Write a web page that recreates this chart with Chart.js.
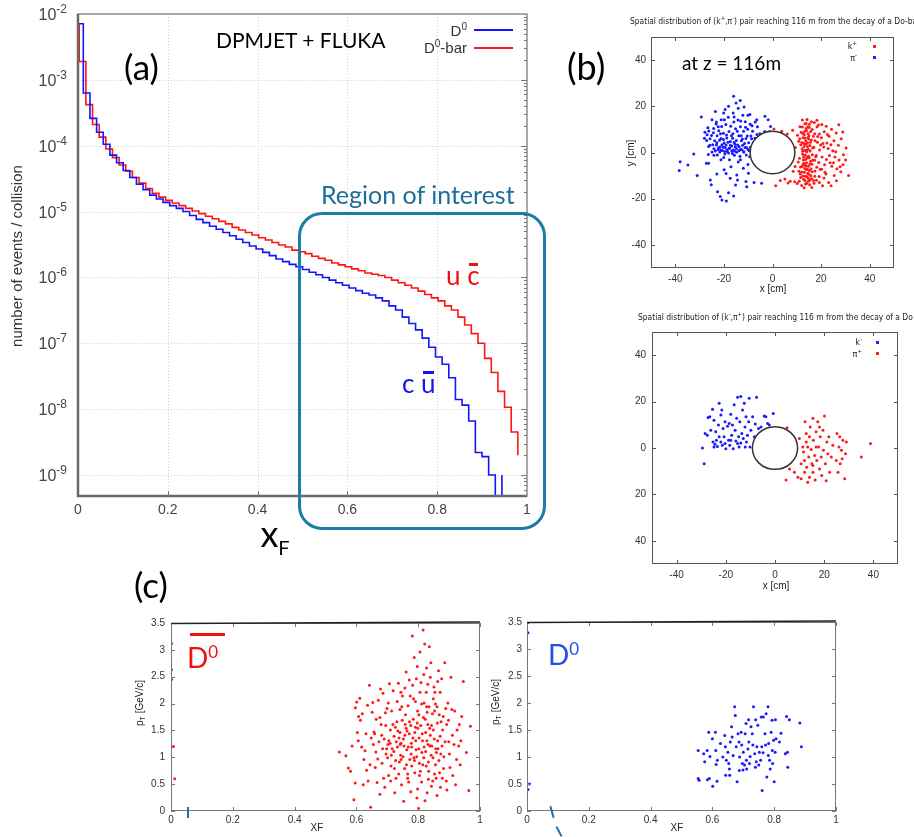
<!DOCTYPE html>
<html>
<head>
<meta charset="utf-8">
<title>D0 / D0-bar at large xF</title>
<script src="https://cdn.jsdelivr.net/npm/chart.js@4.4.1/dist/chart.umd.min.js"></script>
<style>
  body { margin: 0; background: #fff; }
  #page { position: relative; width: 914px; height: 837px; overflow: hidden; font-family: "Liberation Sans", Arial, sans-serif; }
  .box { position: absolute; }
  .txt { position: absolute; white-space: nowrap; line-height: 1; }
  .cal { font-family: Lato, "Open Sans", sans-serif; }
  .tiny { font-family: "Liberation Sans Narrow", "DejaVu Sans Condensed", "Liberation Sans", sans-serif; font-size: 9px; color: #222; }
  .title { font-size: 8.4px; }
  .up { position: relative; }
  .bar { position: relative; display: inline-block; }
  .bar::before { content: ""; position: absolute; left: 2px; right: 2px; top: 1px; border-top: 3px solid currentColor; }
  .dot { position: absolute; width: 3px; height: 3px; }
  .line { position: absolute; height: 2px; }
  #roi { position: absolute; left: 298px; top: 212px; width: 242px; height: 312px; border: 3px solid #1c7da6; border-radius: 24px; }
</style>
</head>
<body>
<div id="page">
  <div class="box" style="left:0;top:0;width:560px;height:560px"><canvas id="histo" width="560" height="560"></canvas></div>
  <div class="box" style="left:600px;top:0;width:314px;height:300px"><canvas id="dbar" width="314" height="300"></canvas></div>
  <div class="box" style="left:600px;top:290px;width:314px;height:310px"><canvas id="dzero" width="314" height="310"></canvas></div>
  <div class="box" style="left:120px;top:600px;width:370px;height:237px"><canvas id="ptbar" width="370" height="237"></canvas></div>
  <div class="box" style="left:483px;top:600px;width:370px;height:237px"><canvas id="pt" width="370" height="237"></canvas></div>

  <!-- (a) annotations -->
  <div class="txt cal" style="left:124px;top:49px;font-size:35px">(a)</div>
  <div class="txt cal" style="left:216px;top:29px;font-size:21px">DPMJET + FLUKA</div>
  <div class="txt" style="left:380px;top:23px;width:87px;text-align:right;font-size:15px;color:#333">D<span class="up" style="font-size:10px;top:-6px">0</span></div>
  <div class="line" style="left:474px;top:29px;width:39px;background:#1414ff"></div>
  <div class="txt" style="left:380px;top:40px;width:87px;text-align:right;font-size:15px;color:#333">D<span class="up" style="font-size:10px;top:-6px">0</span>-bar</div>
  <div class="line" style="left:474px;top:47px;width:39px;background:#ff1414"></div>
  <div id="roi"></div>
  <div class="txt cal" style="left:321px;top:182px;font-size:25px;color:#1c6f9a">Region of interest</div>
  <div class="txt cal" style="left:446px;top:262px;font-size:26px;color:#f01010">u <span class="bar">c</span></div>
  <div class="txt cal" style="left:402px;top:370px;font-size:26px;color:#1414f0">c <span class="bar">u</span></div>

  <!-- (b) annotations -->
  <div class="txt cal" style="left:567px;top:48px;font-size:36px">(b)</div>
  <div class="txt cal" style="left:682px;top:53px;font-size:19px">at z = 116m</div>
  <div class="txt tiny title" style="left:630px;top:15px">Spatial distribution of (k<sup style="font-size:6px">+</sup>,&pi;<sup style="font-size:6px">-</sup>) pair reaching 116 m from the decay of a Do-bar</div>
  <div class="txt tiny" style="left:830px;top:40px;width:27px;text-align:right">k<sup style="font-size:6px">+</sup></div>
  <div class="dot" style="left:873px;top:45px;background:#ff2020"></div>
  <div class="txt tiny" style="left:830px;top:52px;width:27px;text-align:right">&pi;<sup style="font-size:6px">-</sup></div>
  <div class="dot" style="left:873px;top:56px;background:#2020ff"></div>
  <div class="txt tiny title" style="left:638px;top:311px">Spatial distribution of (k<sup style="font-size:6px">-</sup>,&pi;<sup style="font-size:6px">+</sup>) pair reaching 116 m from the decay of a Do</div>
  <div class="txt tiny" style="left:835px;top:336px;width:27px;text-align:right">k<sup style="font-size:6px">-</sup></div>
  <div class="dot" style="left:876px;top:341px;background:#2020ff"></div>
  <div class="txt tiny" style="left:835px;top:348px;width:27px;text-align:right">&pi;<sup style="font-size:6px">+</sup></div>
  <div class="dot" style="left:876px;top:352px;background:#ff2020"></div>

  <!-- (c) annotations -->
  <div class="txt cal" style="left:134px;top:567px;font-size:35px">(c)</div>
  <div class="line" style="left:190px;top:633px;width:35px;height:3px;background:#f01010"></div>
  <div class="txt cal" style="left:187px;top:643px;font-size:28px;color:#f01010">D<span class="up" style="font-size:17px;top:-10px">0</span></div>
  <div class="txt cal" style="left:548px;top:640px;font-size:28px;color:#1f4fe8">D<span class="up" style="font-size:17px;top:-10px">0</span></div>
  <div class="line" style="left:187px;top:807px;width:2px;height:11px;background:#1c6fb0"></div>
  <div class="line" style="left:551px;top:806px;width:2px;height:12px;background:#1c6fb0;transform:rotate(-15deg)"></div>
  <div class="line" style="left:558px;top:826px;width:2px;height:11px;background:#1c6fb0;transform:rotate(-28deg)"></div>
</div>

<script>
/* global Chart */
// ---------- (a) xF spectra, events / collision per bin ----------
const binWidth = 0.0148;
const d0Start = -0.003;     // first bin edge, D0
const d0barStart = -0.012;  // first bin edge, D0-bar
const logFloor = 4.8e-10;   // bottom of the log axis, empty bins sit here
// last D0 entries: an empty bin, then the closing edge of the last bin
const d0 = [7.1e-3, 6.3e-4, 2.6e-4, 1.6e-4, 1.05e-4, 7.2e-5, 5.5e-5, 4.2e-5, 3.3e-5, 2.6e-5,
  2.15e-5, 1.78e-5, 1.55e-5, 1.38e-5, 1.23e-5, 1.12e-5, 1.0e-5, 8.7e-6, 7.6e-6, 6.8e-6,
  6.0e-6, 5.4e-6, 4.8e-6, 4.3e-6, 3.8e-6, 3.4e-6, 3.0e-6, 2.7e-6, 2.4e-6, 2.14e-6,
  1.9e-6, 1.74e-6, 1.58e-6, 1.45e-6, 1.32e-6, 1.2e-6, 1.1e-6, 1.0e-6, 9.1e-7, 8.3e-7,
  7.6e-7, 6.9e-7, 6.3e-7, 5.75e-7, 5.4e-7, 4.9e-7, 4.4e-7, 3.7e-7, 3.2e-7, 2.5e-7,
  2.0e-7, 1.6e-7, 1.2e-7, 8.7e-8, 6.2e-8, 4.8e-8, 3.0e-8, 1.4e-8, 1.15e-8, 6.6e-9,
  2.2e-9, 1.9e-9, 1.0e-9, 0, 1.0e-9];
const d0bar = [6.8e-3, 1.9e-3, 4.2e-4, 2.1e-4, 1.35e-4, 8.9e-5, 6.6e-5, 5.1e-5, 4.1e-5, 3.3e-5,
  2.7e-5, 2.24e-5, 1.9e-5, 1.66e-5, 1.48e-5, 1.35e-5, 1.23e-5, 1.12e-5, 1.02e-5, 9.3e-6,
  8.5e-6, 7.8e-6, 7.1e-6, 6.5e-6, 5.75e-6, 5.25e-6, 4.8e-6, 4.4e-6, 4.0e-6, 3.7e-6,
  3.4e-6, 3.1e-6, 2.9e-6, 2.6e-6, 2.45e-6, 2.3e-6, 2.1e-6, 1.95e-6, 1.82e-6, 1.66e-6,
  1.55e-6, 1.45e-6, 1.35e-6, 1.26e-6, 1.17e-6, 1.12e-6, 1.07e-6, 1.0e-6, 9.1e-7, 8.3e-7,
  7.6e-7, 6.9e-7, 6.2e-7, 5.5e-7, 4.9e-7, 4.4e-7, 3.7e-7, 3.2e-7, 2.5e-7, 1.9e-7,
  1.4e-7, 1.0e-7, 5.9e-8, 3.6e-8, 1.86e-8, 1.07e-8, 4.5e-9, 2.0e-9];
const xfTicks = [0, 0.2, 0.4, 0.6, 0.8, 1];
const decades = [-2, -3, -4, -5, -6, -7, -8, -9];

// ---------- (b) hit positions at z = 116 m, [x cm, y cm] ----------
const posTicks = [-40, -20, 0, 20, 40];
const beamRadius = 9.2;
const kPlusDbar = [[0.6,10.2],[1.3,-14.4],[3.2,-12.1],[3.8,9.2],[5.1,-11.5],[6.4,-13.2],[7.3,-12.4],[7.1,5.3],[8.3,9.6],[8.5,-8.1],
  [9.1,-12.7],[9.4,2.2],[10.3,7.5],[10.6,-4.1],[10.2,-13.4],[11.3,11.2],[11.6,3.4],[11.1,-2.5],[11.4,-9.3],[12.3,14.1],
  [12.5,8.2],[12.1,4.3],[12.4,0.5],[12.7,-3.3],[12.2,-6.1],[12.5,-10.2],[12.0,-14.3],[13.3,12.4],[13.4,6.2],[13.0,2.6],
  [13.5,-1.1],[13.2,-5.4],[13.1,-8.6],[13.4,-12.1],[13.8,10.4],[13.6,-3.0],[14.2,14.3],[14.0,9.5],[14.4,4.1],[14.1,0.3],
  [14.0,-4.4],[14.3,-7.2],[14.2,-10.5],[14.1,-13.3],[14.7,1.4],[14.8,-6.0],[15.2,12.2],[15.0,7.3],[15.4,3.0],[15.1,-2.3],
  [15.0,-9.4],[15.3,-14.0],[16.3,10.0],[16.0,5.4],[16.4,-1.0],[16.2,-5.1],[16.1,-11.4],[17.2,13.0],[17.4,8.1],[17.0,2.3],
  [17.3,-3.4],[17.5,-8.0],[17.1,-13.3],[18.3,11.1],[18.5,4.4],[18.0,-1.3],[18.2,-6.4],[18.1,-12.0],[19.3,8.0],[19.4,1.1],
  [19.0,-4.3],[19.2,-10.4],[20.3,12.1],[20.1,6.4],[20.4,-2.0],[20.2,-7.3],[20.6,-14.4],[21.3,9.0],[21.1,2.4],[21.4,-5.3],
  [21.2,-11.0],[22.1,11.4],[22.4,4.1],[22.2,-3.0],[22.0,-9.3],[23.3,7.0],[23.4,-1.3],[23.1,-13.0],[24.3,10.1],[24.0,3.4],
  [24.4,-6.0],[25.3,5.1],[25.1,-4.4],[25.4,-10.0],[26.2,8.4],[26.0,0.3],[26.5,-7.0],[27.3,12.0],[27.1,3.1],[27.4,-3.3],
  [28.3,6.0],[28.1,-8.3],[29.2,-1.0],[29.0,-5.3],[30.3,2.0],[30.1,-3.3],[31.3,-10.0],[26.3,-12.2],[24.1,-14.4],[18.3,14.0],
  [16.0,13.3],[6.1,8.0],[5.4,-3.2],[9.3,-6.1],[11.0,-12.4],[15.3,-12.0],[13.0,-15.3],[19.3,-13.0],[16.2,-15.2],[12.6,6.4],
  [12.8,-2.0],[13.2,9.1],[13.5,-10.3],[13.7,5.0],[13.9,-7.4],[14.5,11.1],[14.3,-2.4],[14.6,6.5],[14.7,-11.2],[15.5,0.6],
  [15.4,-5.0],[15.7,9.1],[16.5,2.0],[16.3,-8.3],[12.3,11.0],[12.0,-8.4],[11.2,6.0],[11.5,-6.3],[17.5,5.1],[17.4,-10.3],
  [16.6,-3.2],[15.6,4.4],[14.5,-9.0],[13.3,1.0],[14.9,-1.6],[12.9,-4.6],[15.8,-7.0],[13.6,3.6],
  [12.2,1.6],[12.8,-11.6],[13.1,7.6],[13.9,-5.8],[14.4,2.6],[14.8,-12.4],[15.1,10.8],[15.7,-3.8],[12.4,-0.8],[13.3,-6.9],
  [13.8,12.6],[14.2,-1.9],[14.9,5.8],[15.8,-10.1],[12.9,3.9],[13.6,-13.6],[14.6,8.2],[15.2,-7.9],[12.6,-5.2],[13.9,0.9],
  [16.8,7.0],[17.8,-1.8],[18.6,6.9],[19.6,-7.3],[20.7,3.9],[21.6,-8.6],[22.6,7.8],[23.7,-4.4],[24.8,0.8],[25.7,-1.9],
  [11.8,8.8],[11.6,-10.8],[10.8,4.9],[10.9,-8.1],[16.9,-12.1],[18.9,11.9],[22.9,1.7],[27.8,-6.2],[28.9,8.9],[19.8,3.2]];
const piMinusDbar = [[-38.0,-4.0],[-38.4,-7.8],[-34.8,-5.4],[-32.4,-0.6],[-31.0,-10.0],[-29.3,15.4],[-27.2,-4.6],[-26.3,-4.6],[-25.6,-11.9],[-25.2,-14.0],
  [-22.6,-17.0],[-21.5,-19.0],[-20.8,-20.6],[-19.0,-21.0],[-18.1,-17.4],[-16.0,-18.8],[-22.9,-9.3],[-19.9,-7.5],[-17.4,-11.2],[-14.7,-9.7],
  [-14.4,-11.9],[-10.9,-12.6],[-10.6,-14.8],[-7.6,-13.0],[-4.5,-13.3],[-12.0,-6.8],[-9.9,-9.0],[-16.0,24.3],[-13.3,22.5],[-15.0,21.4],
  [-18.1,20.0],[-11.7,19.7],[-19.5,18.6],[-9.3,16.4],[-6.5,14.2],[-3.1,15.7],[-1.8,14.2],[-0.8,11.3],[-1.1,9.1],[-23.5,17.8],
  [-24.9,14.2],[-26.9,7.7],[-28.0,6.2],[-26.3,2.6],[-27.1,5.2],[-26.2,9.3],[-25.8,3.1],[-25.1,7.4],[-24.9,0.2],[-24.2,10.4],
  [-23.8,5.1],[-24.1,1.6],[-23.2,12.3],[-22.8,7.2],[-23.1,3.3],[-22.7,-1.1],[-22.1,9.4],[-21.8,5.3],[-22.2,2.1],[-21.7,0.2],
  [-21.1,14.2],[-20.9,11.3],[-21.2,6.1],[-20.8,3.4],[-21.3,1.1],[-20.2,8.3],[-19.9,4.1],[-20.3,2.3],[-19.7,0.4],[-20.1,-2.2],
  [-19.2,12.1],[-18.8,6.3],[-19.1,3.2],[-18.7,1.2],[-18.2,15.3],[-17.9,9.1],[-18.3,4.4],[-17.8,1.7],[-18.1,-0.2],[-17.7,-3.1],
  [-17.2,11.4],[-16.9,7.2],[-17.3,3.1],[-16.8,0.6],[-16.2,17.1],[-15.9,13.2],[-16.3,8.1],[-15.8,4.3],[-16.1,1.1],[-15.7,-1.2],
  [-15.2,10.3],[-14.9,5.2],[-15.3,2.4],[-14.8,0.1],[-14.2,14.1],[-13.9,7.3],[-14.3,3.3],[-13.8,0.8],[-14.1,-4.1],[-13.2,11.2],
  [-12.8,5.1],[-13.1,1.3],[-12.2,16.1],[-11.9,9.2],[-12.3,3.1],[-11.8,0.2],[-11.2,13.3],[-10.9,6.1],[-11.3,2.2],[-10.8,-1.1],
  [-10.2,10.1],[-9.8,4.2],[-10.1,1.3],[-9.2,12.2],[-8.9,7.1],[-9.1,2.3],[-8.2,9.2],[-7.9,4.1],[-8.1,0.1],[-7.2,6.2],
  [-6.9,-3.1],[-6.2,11.1],[-5.9,3.2],[-5.2,8.1],[-4.8,-5.1],[-4.1,6.2],[-3.2,9.1],[-2.9,-8.1],[-2.1,5.2],[-24.1,-1.2],
  [-21.2,-3.1],[-17.1,-6.2],[-13.2,-3.1],[-10.1,-5.2],[-19.1,-9.1],[-15.2,-14.1],[-23.1,13.2],[-20.1,17.1],[-14.1,19.2],[-10.1,16.1],
  [-7.1,13.2],[-23.5,0.6],[-22.4,1.3],[-21.6,2.4],[-20.7,0.9],[-19.5,2.2],[-18.6,0.4],[-17.7,1.9],[-16.8,2.8],[-15.6,0.7],
  [-14.8,1.6],[-13.7,2.5],[-12.6,1.2],[-11.8,0.3],[-10.7,2.2],[-9.6,0.8],[-24.6,3.4],[-20.2,5.6],[-16.4,6.2],[-12.9,7.3],
  [-26.6,10.7],[-27.8,8.8],[-22.9,4.2],[-21.4,8.1],[-19.6,-0.6],[-18.9,7.6],[-17.3,4.8],[-16.5,-0.4],[-15.4,3.6],[-14.5,9.2],
  [-13.4,-1.6],[-12.4,5.8],[-11.5,3.9],[-10.4,7.1],[-9.4,-1.8],[-8.6,5.9],[-7.6,2.1],[-25.7,5.9],[-24.3,8.6],[-26.4,-0.9],
  [-22.3,11.1],[-19.8,14.2],[-15.8,15.4],[-13.1,13.6],[-11.1,10.9],[-8.4,11.6],[-6.4,7.8]];
const kMinusD0 = [[-29.5,0.0],[-28.8,-6.8],[-28.4,6.2],[-27.5,5.5],[-27.2,13.2],[-26.5,13.5],[-25.4,16.7],[-24.8,12.0],[-23.8,3.3],[-25.2,2.6],
  [-24.4,1.6],[-23.4,0.7],[-23.0,9.9],[-22.7,19.3],[-22.0,14.2],[-21.6,16.4],[-21.1,8.4],[-20.7,4.8],[-20.3,1.9],[-20.0,-0.3],
  [-19.3,9.4],[-18.9,3.3],[-18.6,10.6],[-18.4,1.2],[-18.0,14.6],[-17.6,5.5],[-17.3,9.9],[-17.0,-0.3],[-16.6,18.6],[-16.2,7.7],
  [-15.9,3.0],[-15.6,12.8],[-15.2,21.9],[-14.8,4.8],[-14.6,0.4],[-14.3,11.3],[-13.9,22.2],[-13.5,6.2],[-13.2,16.4],[-12.9,4.1],
  [-12.5,19.3],[-12.2,9.1],[-12.1,0.4],[-11.8,13.5],[-11.6,2.6],[-11.2,5.5],[-10.7,11.3],[-10.5,21.4],[-10.2,0.4],[-9.8,7.7],
  [-9.1,13.5],[-8.4,4.8],[-8.0,10.3],[-7.5,21.9],[-6.7,8.4],[-5.7,9.1],[-4.4,13.8],[-3.7,13.5],[-3.0,10.6],[-2.3,9.9],
  [-0.7,14.9],[-22.7,4.8],[-22.0,2.6],[-21.4,1.2],[-26.1,7.7],[-24.1,7.0],[-20.3,11.3],[-18.0,3.3],[-15.2,1.9],[-13.9,2.2],
  [-24.8,0.4]];
const piPlusD0 = [[4.9,8.7],[4.5,-13.8],[5.9,-9.0],[7.9,-10.4],[9.3,-12.6],[10.6,-13.3],[11.3,0.4],[11.6,-1.7],[12.0,-5.4],[12.2,11.3],
  [12.7,6.2],[12.7,2.6],[12.9,-8.3],[13.3,-14.8],[13.7,-3.9],[14.0,4.8],[14.0,-12.6],[14.3,9.1],[14.7,-0.7],[15.0,-6.8],
  [15.4,12.8],[15.4,-10.4],[15.6,3.3],[16.1,-3.2],[16.3,-13.8],[16.7,7.0],[17.0,-5.4],[17.4,11.3],[17.7,0.4],[18.1,-9.0],
  [18.4,4.8],[18.8,-3.9],[19.0,-11.9],[19.5,7.7],[19.7,-1.0],[20.1,13.8],[20.5,-6.8],[20.8,-14.1],[21.1,2.6],[21.5,-2.5],
  [21.9,4.8],[22.2,-10.4],[22.9,-3.9],[23.5,1.2],[24.9,-5.4],[25.2,6.2],[25.6,-10.4],[26.0,0.4],[26.3,4.8],[26.5,-6.8],
  [27.0,-1.0],[27.3,-4.6],[27.6,3.3],[28.3,-13.3],[28.7,-2.5],[29.0,2.6],[35.1,-3.9],[38.8,1.9],[9.9,4.1],[10.6,-6.8],
  [12.0,-10.4],[15.4,-7.5],[13.3,0.4],[16.7,0.4],[18.1,9.1]];

// ---------- (c) pT vs xF, [xF, pT GeV/c] ----------
const xfTicksC = [0, 0.2, 0.4, 0.6, 0.8, 1];
const ptTicks = [0, 0.5, 1, 1.5, 2, 2.5, 3, 3.5];
const d0barXfPt = [[0.545,1.1],[0.566,1.03],[0.574,0.8],[0.581,0.74],[0.586,1.21],[0.592,0.21],[0.596,0.52],[0.597,1.92],[0.601,2.03],[0.603,1.46],
  [0.607,1.76],[0.611,2.1],[0.613,1.69],[0.617,1.19],[0.622,0.49],[0.624,0.96],[0.631,1.44],[0.633,0.76],[0.638,0.56],[0.642,2.34],
  [0.646,0.07],[0.648,1.36],[0.651,1.84],[0.653,2.02],[0.657,1.47],[0.661,0.81],[0.663,1.1],[0.667,0.53],[0.671,2.06],[0.673,1.29],
  [0.676,0.31],[0.68,1.61],[0.683,0.89],[0.686,2.19],[0.69,1.34],[0.692,0.44],[0.696,1.06],[0.699,1.91],[0.702,1.24],[0.704,0.66],
  [0.707,2.37],[0.71,1.51],[0.712,0.84],[0.716,1.16],[0.719,2.24],[0.722,1.39],[0.724,0.34],[0.727,0.94],[0.731,1.66],[0.733,1.19],
  [0.736,2.38],[0.737,0.69],[0.741,1.89],[0.743,1.04],[0.746,0.49],[0.749,2.14],[0.752,1.34],[0.753,0.18],[0.756,0.79],[0.758,1.61],
  [0.761,2.59],[0.763,1.14],[0.766,0.61],[0.767,1.96],[0.771,1.44],[0.773,0.96],[0.776,0.36],[0.778,1.26],[0.781,3.26],[0.782,2.34],
  [0.784,1.71],[0.786,0.99],[0.787,2.86],[0.789,0.71],[0.791,1.56],[0.793,1.14],[0.794,2.46],[0.796,0.24],[0.798,1.86],[0.801,0.05],
  [0.803,1.36],[0.804,0.89],[0.806,2.21],[0.808,1.59],[0.811,0.54],[0.812,1.09],[0.816,3.37],[0.817,1.74],[0.818,2.54],[0.821,3.11],
  [0.822,0.19],[0.824,1.46],[0.826,0.84],[0.827,1.94],[0.831,2.36],[0.832,1.24],[0.833,0.59],[0.836,3.06],[0.837,1.54],[0.841,2.76],
  [0.842,1.04],[0.843,0.46],[0.846,1.81],[0.851,2.31],[0.852,1.34],[0.853,0.69],[0.856,1.99],[0.857,1.16],[0.861,0.29],[0.862,1.64],
  [0.866,2.61],[0.867,0.94],[0.871,1.39],[0.872,0.44],[0.876,2.46],[0.877,1.21],[0.881,1.76],[0.882,0.79],[0.886,2.76],[0.887,1.29],
  [0.891,0.56],[0.892,1.61],[0.896,2.01],[0.901,1.06],[0.906,2.49],[0.909,1.89],[0.912,0.66],[0.916,1.24],[0.921,0.49],[0.926,1.51],
  [0.931,1.21],[0.936,0.86],[0.941,1.76],[0.946,2.41],[0.956,1.09],[0.964,0.38],[0.969,1.58],[0.705,1.31],[0.713,1.04],[0.718,1.61],
  [0.723,0.79],[0.729,1.29],[0.734,1.49],[0.739,0.91],[0.744,1.26],[0.748,1.69],[0.751,1.01],[0.757,1.41],[0.762,0.86],[0.768,1.19],
  [0.772,1.66],[0.777,1.06],[0.783,1.36],[0.788,0.94],[0.792,1.31],[0.797,1.64],[0.802,1.16],[0.807,0.74],[0.813,1.44],[0.818,0.99],
  [0.823,1.71],[0.828,1.31],[0.833,0.91],[0.838,1.21],[0.843,1.59],[0.848,0.99],[0.853,1.86],[0.858,0.61],[0.863,1.31],[0.868,1.79],
  [0.873,1.06],[0.878,0.61],[0.659,1.44],[0.676,1.74],[0.685,1.16],[0.695,1.59],[0.701,0.99],[0.741,1.46],[0.759,1.79],[0.779,1.19],
  [0.799,1.54],[0.819,1.19],[0.839,1.41],[0.859,1.09],[0.879,1.51],[0.899,1.29],[0.769,0.54],[0.798,0.41],[0.829,0.34],[0.791,2.04],
  [0.811,1.99],[0.829,1.84],[0.849,2.09],[0.761,1.54],[0.742,1.24],[0.721,1.11],[0.709,1.26],
  [0.606,1.31],[0.619,1.81],[0.628,1.12],[0.636,1.97],[0.644,0.86],[0.655,1.24],[0.664,1.71],[0.669,0.97],[0.678,2.27],[0.682,1.41],
  [0.688,0.61],[0.694,1.83],[0.698,1.16],[0.703,2.01],[0.711,0.56],[0.714,1.86],[0.726,1.56],[0.728,0.61],[0.732,2.04],[0.738,1.36],
  [0.745,0.96],[0.747,1.94],[0.754,1.21],[0.757,2.29],[0.764,1.49],[0.766,0.69],[0.774,2.14],[0.776,1.59],[0.779,0.84],[0.785,2.09],
  [0.789,1.46],[0.795,1.01],[0.797,2.69],[0.802,1.79],[0.804,0.66],[0.809,2.39],[0.814,1.31],[0.815,0.86],[0.819,2.01],[0.824,1.11],
  [0.826,2.21],[0.831,1.61],[0.834,0.74],[0.835,1.94],[0.839,2.49],[0.844,1.21],[0.847,0.56],[0.849,1.51],[0.854,2.21],[0.856,0.86],
  [0.861,1.94],[0.864,1.16],[0.869,0.71],[0.871,2.21],[0.874,1.66],[0.883,1.01],[0.889,1.91],[0.893,0.39],[0.898,1.69],[0.903,0.81],
  [0.911,1.41],[0.918,1.86],[0.924,0.96],[0.933,1.61],[0.938,1.31],[0.827,2.66],[0.771,2.44],[0.744,2.21],[0.863,2.41],[0.806,2.96],
  [0.002,3.12],[0.002,2.63],[0.002,2.45],[0.008,1.2],[0.012,0.6]];
const d0XfPt = [[0.554,1.12],[0.554,0.6],[0.557,0.57],[0.572,1.06],[0.575,0.91],[0.583,1.12],[0.584,0.58],[0.59,0.6],[0.588,1.46],[0.592,1.01],
  [0.6,1.34],[0.601,0.46],[0.61,1.46],[0.611,1.12],[0.612,0.86],[0.615,0.55],[0.616,0.94],[0.626,1.25],[0.634,1.0],[0.64,1.4],
  [0.642,1.19],[0.643,0.66],[0.645,0.94],[0.65,1.09],[0.653,0.88],[0.655,0.78],[0.656,0.66],[0.658,1.28],[0.662,1.56],[0.664,1.37],
  [0.667,1.03],[0.672,1.93],[0.674,1.77],[0.677,1.19],[0.68,0.54],[0.683,1.43],[0.686,1.28],[0.687,0.75],[0.688,1.0],[0.693,1.46],
  [0.695,1.22],[0.697,0.88],[0.699,0.76],[0.70,1.09],[0.704,0.85],[0.706,1.43],[0.709,1.62],[0.71,0.94],[0.711,0.78],[0.715,1.15],
  [0.717,1.69],[0.718,1.28],[0.72,0.88],[0.722,1.01],[0.725,1.56],[0.729,1.43],[0.731,1.22],[0.733,1.93],[0.737,1.06],[0.739,0.81],
  [0.74,1.69],[0.742,0.91],[0.744,1.19],[0.747,1.59],[0.75,0.85],[0.752,1.09],[0.756,0.94],[0.758,1.74],[0.76,1.19],[0.761,0.38],
  [0.764,1.08],[0.765,1.74],[0.77,1.43],[0.772,1.22],[0.774,1.8],[0.776,0.63],[0.78,1.93],[0.781,1.03],[0.782,1.25],[0.785,0.94],
  [0.787,0.78],[0.79,1.46],[0.793,1.68],[0.794,1.12],[0.795,0.88],[0.798,1.31],[0.80,0.54],[0.803,1.09],[0.804,1.69],[0.806,1.34],
  [0.817,1.28],[0.822,1.44],[0.836,1.06],[0.84,1.75],[0.843,1.09],[0.844,0.81],[0.849,1.69],[0.883,1.63],[0.888,1.19],
  [0.003,3.49],[0.003,3.3],[0.008,0.5],[0.003,0.4]];

Chart.defaults.font.family = '"Liberation Sans", Arial, sans-serif';
Chart.defaults.color = '#333';

// histogram bins as left edges; the log axis cannot show 0, so empty bins go to the floor
function steps(start, values) {
  return values.map((v, i) => ({ x: start + i * binWidth, y: v > 0 ? v : logFloor }));
}

// text made of runs: [text, size, dy]
function drawRuns(ctx, runs, cx, cy, rotate, family) {
  ctx.save();
  ctx.translate(cx, cy);
  if (rotate) ctx.rotate(-Math.PI / 2);
  ctx.textBaseline = 'alphabetic';
  let w = 0;
  runs.forEach(([t, s]) => { ctx.font = s + 'px ' + family; w += ctx.measureText(t).width; });
  let x = -w / 2;
  runs.forEach(([t, s, dy]) => {
    ctx.font = s + 'px ' + family;
    ctx.fillText(t, x, dy);
    x += ctx.measureText(t).width;
  });
  ctx.restore();
}

const histDecor = {
  id: 'histDecor',
  beforeDatasetsDraw(chart) {
    const { ctx, chartArea: a, scales: { x, y } } = chart;
    ctx.save();
    ctx.strokeStyle = '#d0d0d0';
    ctx.lineWidth = 1;
    ctx.setLineDash([1, 2]);
    ctx.beginPath();
    decades.forEach(e => {
      const p = Math.round(y.getPixelForValue(Math.pow(10, e))) + 0.5;
      ctx.moveTo(a.left, p); ctx.lineTo(a.right, p);
    });
    xfTicks.slice(1, -1).forEach(v => {
      const p = Math.round(x.getPixelForValue(v)) + 0.5;
      ctx.moveTo(p, a.top); ctx.lineTo(p, a.bottom);
    });
    ctx.stroke();
    ctx.restore();
  },
  afterDatasetsDraw(chart) {
    const { ctx, chartArea: a, scales: { x, y } } = chart;
    ctx.save();
    ctx.strokeStyle = '#8e8e8e';
    ctx.lineWidth = 1.5;
    ctx.strokeRect(a.left, a.top, a.right - a.left, a.bottom - a.top);
    ctx.strokeStyle = '#6a6a6a';
    ctx.lineWidth = 2.5;
    ctx.beginPath();
    ctx.moveTo(a.left, a.top); ctx.lineTo(a.left, a.bottom); ctx.lineTo(a.right, a.bottom);
    ctx.stroke();
    // small ticks on the right edge and bottom
    ctx.strokeStyle = '#777';
    ctx.lineWidth = 1;
    ctx.beginPath();
    for (let e = -10; e <= -3; e++) {
      for (let m = 1; m <= 9; m++) {
        const v = m * Math.pow(10, e);
        if (v < y.min || v > y.max) continue;
        const p = Math.round(y.getPixelForValue(v)) + 0.5;
        ctx.moveTo(a.right, p); ctx.lineTo(a.right - (m === 1 ? 6 : 3), p);
      }
    }
    xfTicks.slice(1, -1).forEach(v => {
      const p = Math.round(x.getPixelForValue(v)) + 0.5;
      ctx.moveTo(p, a.bottom); ctx.lineTo(p, a.bottom - 5);
    });
    ctx.stroke();
    // 10^n labels
    ctx.fillStyle = '#444';
    ctx.textAlign = 'right';
    decades.forEach(e => {
      const p = y.getPixelForValue(Math.pow(10, e));
      ctx.font = '12px "Liberation Sans", Arial, sans-serif';
      const ex = String(e);
      ctx.fillText(ex, 67, p - 1);
      const ew = ctx.measureText(ex).width;
      ctx.font = '16px "Liberation Sans", Arial, sans-serif';
      ctx.fillText('10', 67 - ew, p + 6);
    });
    ctx.textAlign = 'left';
    ctx.fillStyle = '#333';
    drawRuns(ctx, [['number of events / collision', 15, 0]], 22, 256, true, '"Liberation Sans", Arial, sans-serif');
    ctx.fillStyle = '#000';
    drawRuns(ctx, [['x', 36, 0], ['F', 20, 8]], 275, 547, false, 'Lato, "Open Sans", sans-serif');
    ctx.restore();
  }
};

new Chart(document.getElementById('histo'), {
  type: 'line',
  data: {
    datasets: [
      { label: 'D0', data: steps(d0Start, d0), borderColor: '#1414ff', borderWidth: 1.6, pointRadius: 0, stepped: true, fill: false },
      { label: 'D0-bar', data: steps(d0barStart, d0bar), borderColor: '#ff1414', borderWidth: 1.6, pointRadius: 0, stepped: true, fill: false }
    ]
  },
  options: {
    responsive: false,
    animation: false,
    events: [],
    layout: { padding: { top: 14, right: 33, left: 0, bottom: 0 } },
    plugins: { legend: { display: false }, tooltip: { enabled: false } },
    scales: {
      x: {
        type: 'linear', min: 0, max: 1,
        grid: { display: false, drawTicks: false }, border: { display: false },
        ticks: { font: { size: 14 }, color: '#444', padding: 6, maxRotation: 0, callback: v => String(v) },
        afterBuildTicks: s => { s.ticks = xfTicks.map(v => ({ value: v })); },
        afterFit: s => { s.height = 64; }
      },
      y: {
        type: 'logarithmic', min: logFloor, max: 1e-2,
        grid: { display: false, drawTicks: false }, border: { display: false },
        ticks: { display: false },
        afterBuildTicks: s => { s.ticks = decades.map(e => ({ value: Math.pow(10, e) })); },
        afterFit: s => { s.width = 78; }
      }
    }
  },
  plugins: [histDecor]
});

// frame, inward ticks, beam-pipe circle and axis titles for the scatter panels
function makeFrame(cfg) {
  return {
    id: 'frame',
    afterDatasetsDraw(chart) {
      const { ctx, chartArea: a, scales: { x, y } } = chart;
      ctx.save();
      if (cfg.beam) {
        const cx = x.getPixelForValue(0), cy = y.getPixelForValue(0);
        const rx = x.getPixelForValue(cfg.beam) - cx, ry = cy - y.getPixelForValue(cfg.beam);
        ctx.beginPath();
        ctx.ellipse(cx, cy, rx, ry, 0, 0, Math.PI * 2);
        ctx.fillStyle = '#fff';
        ctx.fill();
        ctx.strokeStyle = '#333';
        ctx.lineWidth = 1.5;
        ctx.stroke();
      }
      ctx.strokeStyle = cfg.color;
      ctx.lineWidth = 1;
      ctx.strokeRect(a.left + 0.5, a.top + 0.5, a.right - a.left - 1, a.bottom - a.top - 1);
      ctx.beginPath();
      x.ticks.forEach(t => {
        const p = Math.round(x.getPixelForValue(t.value)) + 0.5;
        ctx.moveTo(p, a.bottom); ctx.lineTo(p, a.bottom - 4);
        ctx.moveTo(p, a.top); ctx.lineTo(p, a.top + 4);
      });
      y.ticks.forEach(t => {
        const p = Math.round(y.getPixelForValue(t.value)) + 0.5;
        ctx.moveTo(a.left, p); ctx.lineTo(a.left + 4, p);
        ctx.moveTo(a.right, p); ctx.lineTo(a.right - 4, p);
      });
      ctx.stroke();
      if (cfg.topColor) {
        ctx.strokeStyle = cfg.topColor;
        ctx.lineWidth = 1.5;
        ctx.beginPath();
        ctx.moveTo(a.left, a.top + 0.5); ctx.lineTo(a.right, a.top - 1);
        ctx.stroke();
      }
      ctx.fillStyle = '#222';
      const fam = '"Liberation Sans", Arial, sans-serif';
      if (cfg.xTitle) drawRuns(ctx, cfg.xTitle.runs, cfg.xTitle.x, cfg.xTitle.y, false, fam);
      if (cfg.yTitle) drawRuns(ctx, cfg.yTitle.runs, cfg.yTitle.x, cfg.yTitle.y, true, fam);
      ctx.restore();
    }
  };
}

function scatterChart(id, sets, o) {
  return new Chart(document.getElementById(id), {
    type: 'scatter',
    data: {
      datasets: sets.map(([pts, color]) => ({
        data: pts.map(([x, y]) => ({ x, y })),
        pointRadius: 1.5, pointBorderWidth: 0, pointBackgroundColor: color, showLine: false
      }))
    },
    options: {
      responsive: false,
      animation: false,
      events: [],
      layout: { padding: o.pad },
      plugins: { legend: { display: false }, tooltip: { enabled: false } },
      scales: {
        x: {
          type: 'linear', min: o.xRange[0], max: o.xRange[1],
          grid: { display: false, drawTicks: false }, border: { display: false },
          ticks: { font: { size: 10 }, color: '#333', padding: o.xPad, maxRotation: 0, callback: o.xLabel || (v => String(v)) },
          afterBuildTicks: s => { s.ticks = o.xTicks.map(v => ({ value: v })); },
          afterFit: s => { s.height = o.xH; }
        },
        y: {
          type: 'linear', min: o.yRange[0], max: o.yRange[1],
          grid: { display: false, drawTicks: false }, border: { display: false },
          ticks: { font: { size: 10 }, color: '#333', padding: o.yPad, callback: o.yLabel || (v => String(v)) },
          afterBuildTicks: s => { s.ticks = o.yTicks.map(v => ({ value: v })); },
          afterFit: s => { s.width = o.yW; }
        }
      }
    },
    plugins: [makeFrame(o.frame)]
  });
}

scatterChart('dbar', [[piMinusDbar, '#1a1aff'], [kPlusDbar, '#ff1a1a']], {
  pad: { top: 37, right: 20, left: 0, bottom: 0 }, xH: 32, yW: 51, xPad: 5, yPad: 5,
  xRange: [-50, 50], yRange: [-50, 50], xTicks: posTicks, yTicks: posTicks,
  frame: { color: '#555', beam: beamRadius,
    xTitle: { runs: [['x [cm]', 10, 0]], x: 173, y: 292 },
    yTitle: { runs: [['y [cm]', 10, 0]], x: 34, y: 153 } }
});

scatterChart('dzero', [[kMinusD0, '#1a1aff'], [piPlusD0, '#ff1a1a']], {
  pad: { top: 42, right: 16, left: 0, bottom: 0 }, xH: 36, yW: 52, xPad: 5, yPad: 6,
  xRange: [-50, 50], yRange: [-50, 50], xTicks: posTicks, yTicks: posTicks,
  yLabel: v => String(Math.abs(v)),
  frame: { color: '#555', beam: beamRadius,
    xTitle: { runs: [['x [cm]', 10, 0]], x: 176, y: 299 } }
});

scatterChart('ptbar', [[d0barXfPt, '#ff1a1a']], {
  pad: { top: 23, right: 10, left: 0, bottom: 0 }, xH: 26, yW: 51, xPad: 3, yPad: 6,
  xRange: [0, 1], yRange: [0, 3.5], xTicks: xfTicksC, yTicks: ptTicks,
  frame: { color: '#777', topColor: '#222',
    xTitle: { runs: [['XF', 10, 0]], x: 197, y: 231 },
    yTitle: { runs: [['p', 10, 0], ['T', 7, 2], [' [GeV/c]', 10, 0]], x: 23, y: 103 } }
});

scatterChart('pt', [[d0XfPt, '#1a1aff']], {
  pad: { top: 22, right: 17, left: 0, bottom: 0 }, xH: 26, yW: 44, xPad: 3, yPad: 5,
  xRange: [0, 1], yRange: [0, 3.5], xTicks: xfTicksC, yTicks: ptTicks,
  frame: { color: '#777', topColor: '#222',
    xTitle: { runs: [['XF', 10, 0]], x: 194, y: 231 },
    yTitle: { runs: [['p', 10, 0], ['T', 7, 2], [' [GeV/c]', 10, 0]], x: 16, y: 102 } }
});
</script>
</body>
</html>
